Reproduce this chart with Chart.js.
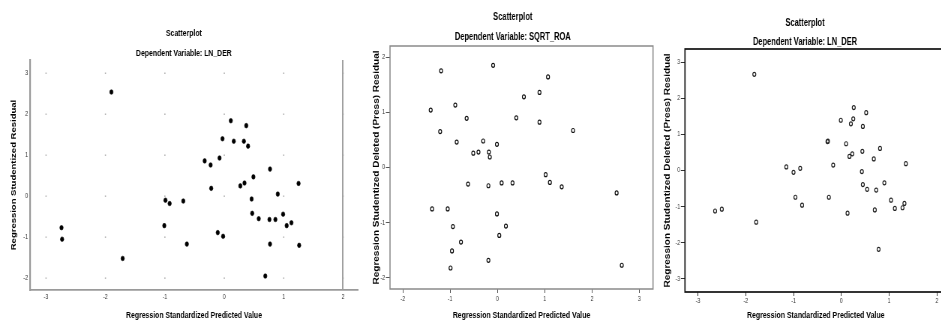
<!DOCTYPE html>
<html>
<head>
<meta charset="utf-8">
<script src="https://cdn.jsdelivr.net/npm/chart.js@4"></script>
<style>
html, body { margin: 0; padding: 0; background: #fff; overflow: hidden; width: 941px; height: 321px; }
#wrap { position: relative; width: 941px; height: 321px; overflow: hidden; }
/* the source picture is squeezed sideways, so every panel is drawn wide and squeezed */
canvas { position: absolute; top: 0; transform: scaleX(0.75); transform-origin: 0 0; }
</style>
</head>
<body>
<div id="wrap">
  <canvas id="c1" width="487" height="321" style="left:0px;width:487px;height:321px"></canvas>
  <canvas id="c2" width="400" height="321" style="left:360px;width:400px;height:321px"></canvas>
  <canvas id="c3" width="390" height="321" style="left:660px;width:390px;height:321px"></canvas>
</div>
<script>
var FONT = "'Liberation Sans', Arial, Helvetica, sans-serif";

// panel 1 - LN_DER, studentized residual
var p1Title = 'Scatterplot';
var p1Sub = 'Dependent Variable: LN_DER';
var p1XLabel = 'Regression Standardized Predicted Value';
var p1YLabel = 'Regression Studentized Residual';
var p1XTicks = [-3, -2, -1, 0, 1, 2];
var p1YTicks = [-2, -1, 0, 1, 2, 3];
var p1X = [-1.90, 0.11, 0.37, -0.03, 0.16, 0.33, 0.40, -0.08, -0.33, -0.23, 0.77, 0.49, 0.34, 0.27, 1.25, -0.22, 0.90, 0.46, -0.99,
           -0.92, -0.69, 0.47, 0.99, 0.58, 0.76, 0.86, 1.13, 1.05, -1.01, -0.11, -0.02, -0.63, 0.77, 1.26, -2.74, -2.73, -1.71, 0.69];
var p1Y = [2.54, 1.84, 1.72, 1.40, 1.34, 1.34, 1.22, 0.93, 0.86, 0.76, 0.66, 0.47, 0.32, 0.25, 0.31, 0.19, 0.05, -0.07, -0.10,
           -0.18, -0.12, -0.42, -0.44, -0.55, -0.57, -0.57, -0.65, -0.72, -0.72, -0.89, -0.98, -1.17, -1.17, -1.20, -0.77, -1.05, -1.52, -1.95];

// panel 2 - SQRT_ROA, deleted residual
var p2Title = 'Scatterplot';
var p2Sub = 'Dependent Variable: SQRT_ROA';
var p2XLabel = 'Regression Standardized Predicted Value';
var p2YLabel = 'Regression Studentized Deleted (Press) Residual';
var p2XTicks = [-2, -1, 0, 1, 2, 3];
var p2YTicks = [-2, -1, 0, 1, 2];
var p2X = [-1.19, -0.09, 1.07, 0.56, 0.89, -1.41, -0.89, -0.65, 0.40, 0.89, -1.21, 1.60, -0.86, -0.30, -0.01, -0.51, -0.40, -0.18, -0.16,
           1.02, 1.11, 1.36, 2.52, -0.62, -0.19, 0.09, 0.32, -1.38, -1.05, -0.01, -0.94, 0.18, 0.04, -0.77, -0.96, -0.19, -0.99, 2.63];
var p2Y = [1.75, 1.85, 1.64, 1.28, 1.36, 1.04, 1.13, 0.89, 0.90, 0.82, 0.65, 0.67, 0.46, 0.48, 0.42, 0.26, 0.28, 0.28, 0.19,
           -0.13, -0.27, -0.35, -0.46, -0.30, -0.33, -0.28, -0.28, -0.75, -0.75, -0.84, -1.07, -1.06, -1.23, -1.35, -1.51, -1.68, -1.82, -1.77];

// panel 3 - LN_DER, deleted residual
var p3Title = 'Scatterplot';
var p3Sub = 'Dependent Variable: LN_DER';
var p3XLabel = 'Regression Standardized Predicted Value';
var p3YLabel = 'Regression Studentized Deleted (Press) Residual';
var p3XTicks = [-3, -2, -1, 0, 1, 2];
var p3YTicks = [-3, -2, -1, 0, 1, 2, 3];
var p3X = [-1.82, 0.26, 0.52, -0.01, 0.25, 0.20, 0.45, -0.29, -0.28, 0.10, 0.81, 0.44, 0.23, 0.17, 0.68, 1.35, -1.15, -1.00, -0.86,
           -0.17, 0.43, 0.45, 0.54, 0.73, 0.90, -0.96, -0.82, -0.26, 1.04, 1.12, 1.28, 1.32, 0.13, 0.70, -2.64, -2.50, -1.78, 0.78];
var p3Y = [2.66, 1.74, 1.60, 1.39, 1.43, 1.29, 1.22, 0.80, 0.81, 0.74, 0.61, 0.53, 0.46, 0.39, 0.32, 0.19, 0.10, -0.05, 0.06,
           0.15, -0.03, -0.39, -0.52, -0.54, -0.34, -0.74, -0.96, -0.74, -0.82, -1.05, -1.03, -0.91, -1.18, -1.09, -1.12, -1.07, -1.43, -2.18];

function pts(xs, ys) {
  return xs.map(function (x, i) { return {x: x, y: ys[i]}; });
}
function fixTicks(list) {
  return function (scale) { scale.ticks = list.map(function (v) { return {value: v}; }); };
}
function fixSize(prop, v) {
  return function (scale) { scale[prop] = v; };
}
function font(size, bold) {
  return {family: FONT, size: size, weight: bold ? 'bold' : 'normal'};
}

// small grey dots where the tick lines would cross (panel 1 only)
var gridDots = {
  id: 'gridDots',
  beforeDatasetsDraw: function (chart) {
    var ctx = chart.ctx, xs = chart.scales.x, ys = chart.scales.y;
    ctx.save();
    ctx.fillStyle = '#a0a0a0';
    xs.ticks.forEach(function (tx) {
      ys.ticks.forEach(function (ty) {
        ctx.fillRect(xs.getPixelForValue(tx.value) - 0.8, ys.getPixelForValue(ty.value) - 0.6, 1.6, 1.2);
      });
    });
    ctx.restore();
  }
};

function frame(color, w) {
  return {
    id: 'frame',
    beforeDatasetsDraw: function (chart) {
      var a = chart.chartArea, ctx = chart.ctx;
      ctx.save();
      ctx.strokeStyle = color;
      ctx.lineWidth = w;
      ctx.strokeRect(a.left, a.top, a.right - a.left, a.bottom - a.top);
      ctx.restore();
    }
  };
}

var base = {
  responsive: false,
  animation: false,
  devicePixelRatio: 1,
  events: []
};

// panel 1
new Chart(document.getElementById('c1'), {
  type: 'scatter',
  data: {datasets: [{
    data: pts(p1X, p1Y),
    pointRadius: 2.3, pointBackgroundColor: '#000', pointBorderColor: '#000', pointBorderWidth: 0.6
  }]},
  options: Object.assign({}, base, {
    layout: {padding: {left: 13, right: 9.7, top: 0, bottom: 0}},
    plugins: {
      legend: {display: false}, tooltip: {enabled: false},
      title: {display: true, text: p1Title, color: '#000', font: font(9.2, true), padding: {top: 27.5, bottom: 0}},
      subtitle: {display: true, text: p1Sub, color: '#000', font: font(9.2, true), padding: {top: 9, bottom: 1.5}}
    },
    scales: {
      x: {
        type: 'linear', min: -3.27, max: 2.25,
        afterBuildTicks: fixTicks(p1XTicks), afterFit: fixSize('height', 31),
        border: {color: '#9a9a9a', width: 1.7},
        grid: {
          drawTicks: false, lineWidth: 2,
          color: function (c) { return c.tick && c.tick.value === 2 ? '#a0a0a0' : 'rgba(0,0,0,0)'; }
        },
        ticks: {padding: 3, font: font(7, false), color: '#333', maxRotation: 0},
        title: {display: true, text: p1XLabel, color: '#000', font: font(9.2, true), padding: {top: 0, bottom: 0.5}}
      },
      y: {
        type: 'linear', min: -2.29, max: 3.32,
        afterBuildTicks: fixTicks(p1YTicks), afterFit: fixSize('width', 27),
        border: {color: '#9a9a9a', width: 2.2},
        grid: {drawTicks: false, color: 'rgba(0,0,0,0)'},
        ticks: {padding: 2.7, font: font(7, false), color: '#333'},
        title: {display: true, text: p1YLabel, color: '#000', font: font(9.5, true), padding: {top: 0, bottom: 0}}
      }
    }
  }),
  plugins: [gridDots]
});

// panel 2
new Chart(document.getElementById('c2'), {
  type: 'scatter',
  data: {datasets: [{
    data: pts(p2X, p2Y),
    pointRadius: 2, pointBackgroundColor: 'rgba(0,0,0,0)', pointBorderColor: '#111', pointBorderWidth: 1.2
  }]},
  options: Object.assign({}, base, {
    layout: {padding: {left: 16.7, right: 9.3, top: 0, bottom: 0}},
    plugins: {
      legend: {display: false}, tooltip: {enabled: false},
      title: {display: true, text: p2Title, color: '#000', font: font(10, true), padding: {top: 11, bottom: 0}},
      subtitle: {display: true, text: p2Sub, color: '#000', font: font(10, true), padding: {top: 8, bottom: 3}}
    },
    scales: {
      x: {
        type: 'linear', min: -2.27, max: 3.29,
        afterBuildTicks: fixTicks(p2XTicks), afterFit: fixSize('height', 32),
        border: {display: false},
        grid: {drawOnChartArea: false, drawTicks: true, tickLength: 4, tickColor: '#555', tickWidth: 1},
        ticks: {padding: 1.5, font: font(7, false), color: '#333', maxRotation: 0},
        title: {display: true, text: p2XLabel, color: '#000', font: font(9.3, true), padding: {top: 0, bottom: 0.4}}
      },
      y: {
        type: 'linear', min: -2.2, max: 2.2,
        afterBuildTicks: fixTicks(p2YTicks), afterFit: fixSize('width', 23.3),
        border: {display: false},
        grid: {drawOnChartArea: false, drawTicks: true, tickLength: 5.5, tickColor: '#555', tickWidth: 1},
        ticks: {padding: 1, font: font(7, false), color: '#333'},
        title: {display: true, text: p2YLabel, color: '#000', font: font(10, true), padding: {top: 0, bottom: 0}}
      }
    }
  }),
  plugins: [frame('#8a8a8a', 1.5)]
});

// panel 3
new Chart(document.getElementById('c3'), {
  type: 'scatter',
  data: {datasets: [{
    data: pts(p3X, p3Y),
    pointRadius: 2, pointBackgroundColor: 'rgba(0,0,0,0)', pointBorderColor: '#222', pointBorderWidth: 1.2
  }]},
  options: Object.assign({}, base, {
    layout: {padding: {left: 4.7, right: 8, top: 0, bottom: 0}},
    plugins: {
      legend: {display: false}, tooltip: {enabled: false},
      title: {display: true, text: p3Title, color: '#000', font: font(10, true), padding: {top: 17, bottom: 0}},
      subtitle: {display: true, text: p3Sub, color: '#000', font: font(10, true), padding: {top: 7, bottom: 1}}
    },
    scales: {
      x: {
        type: 'linear', min: -3.27, max: 2.2,
        afterBuildTicks: fixTicks(p3XTicks), afterFit: fixSize('height', 29),
        border: {display: false},
        grid: {drawOnChartArea: false, drawTicks: true, tickLength: 4, tickColor: '#333', tickWidth: 1},
        ticks: {padding: 0.5, font: font(7, false), color: '#333', maxRotation: 0},
        title: {display: true, text: p3XLabel, color: '#000', font: font(9.3, true), padding: {top: 0, bottom: 0.4}}
      },
      y: {
        type: 'linear', min: -3.36, max: 3.36,
        afterBuildTicks: fixTicks(p3YTicks), afterFit: fixSize('width', 28.6),
        border: {display: false},
        grid: {drawOnChartArea: false, drawTicks: true, tickLength: 5.5, tickColor: '#333', tickWidth: 1},
        ticks: {padding: 1, font: font(7, false), color: '#333'},
        title: {display: true, text: p3YLabel, color: '#000', font: font(10, true), padding: {top: 0, bottom: 0}}
      }
    }
  }),
  plugins: [frame('#111', 1.7)]
});
</script>
</body>
</html>
